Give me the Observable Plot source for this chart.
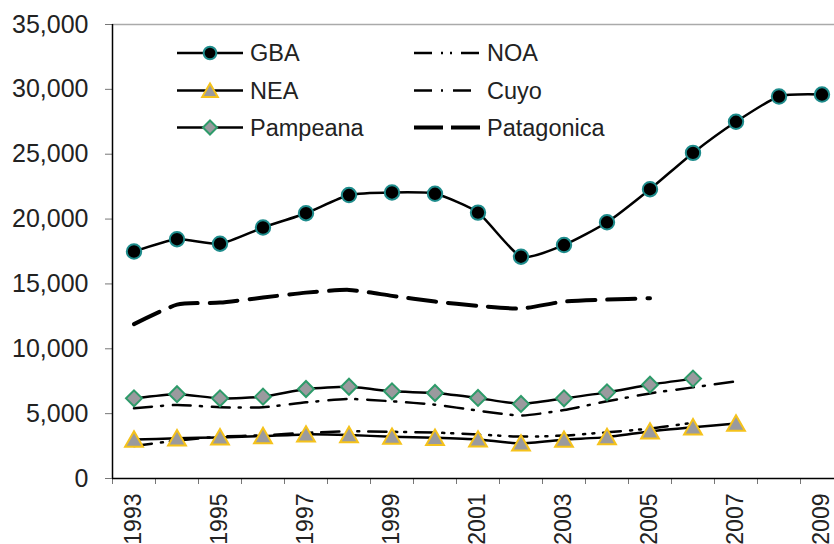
<!DOCTYPE html>
<html><head><meta charset="utf-8">
<script src="https://cdn.jsdelivr.net/npm/d3@7"></script>
<script src="https://cdn.jsdelivr.net/npm/@observablehq/plot@0.6"></script>
<style>
body{margin:0;background:#fff;}
#wrap{position:relative;width:834px;height:544px;overflow:hidden;background:#fff;}
#wrap svg{display:block;}
.legend{position:absolute;left:0;top:0;pointer-events:none;}
</style></head><body><div id="wrap"></div>
<script>
const years = [1993,1994,1995,1996,1997,1998,1999,2000,2001,2002,2003,2004,2005,2006,2007,2008,2009];
const labelYears = [1993,1995,1997,1999,2001,2003,2005,2007,2009];
const yTicks = [0,5000,10000,15000,20000,25000,30000,35000];

const GBA        = [17500,18450,18100,19350,20450,21850,22050,21950,20500,17100,18000,19750,22300,25100,27500,29450,29600];
const NEA        = [3000,3100,3170,3270,3400,3350,3220,3140,3010,2700,2990,3190,3630,3950,4240,null,null];
const Pampeana   = [6180,6500,6180,6310,6900,7075,6720,6590,6210,5750,6180,6640,7230,7700,null,null,null];
const NOA        = [2500,2920,3230,3330,3520,3640,3600,3540,3390,3230,3310,3560,3850,4300,null,null,null];
const Cuyo       = [5410,5670,5490,5490,5870,6130,5950,5690,5230,4850,5280,5950,6560,7025,7485,null,null];
const Patagonica = [11900,13400,13560,13950,14330,14540,14080,13640,13310,13100,13640,13790,13900,null,null,null,null];

const FONT = "'Liberation Sans', Arial, sans-serif";
const TEXT = "#222";
const series = (vals) => years.map((year, i) => ({year, value: vals[i]})).filter(d => d.value != null);
const boundaries = years.map(y => y - 0.5).concat([years[years.length - 1] + 0.5]);

const gba = series(GBA), nea = series(NEA), pam = series(Pampeana),
      noa = series(NOA), cuyo = series(Cuyo), pat = series(Patagonica);

const styles = {
  GBA: {stroke:"#000", width:2.5, dash:null, symbol:"circle", r:7.2, fill:"#000", mstroke:"#1e8c8c"},
  NEA: {stroke:"#000", width:2.5, dash:null, symbol:"triangle", r:6.6, fill:"#9a9a9e", mstroke:"#f5c21b"},
  Pampeana: {stroke:"#000", width:2.5, dash:null, symbol:"diamond2", r:7.2, fill:"#9a9a9e", mstroke:"#2e9b6a"},
  NOA: {stroke:"#000", width:2.5, dash:"18,9,2,7,2,9"},
  Cuyo: {stroke:"#000", width:2.5, dash:"18,9,2,10"},
  Patagonica: {stroke:"#000", width:4, dash:"28,12"}
};

const lineMark = (data, s) => Plot.line(data, {x:"year", y:"value", stroke:s.stroke, strokeWidth:s.width,
  strokeDasharray:s.dash || undefined, curve:"cardinal", tension:0.4, strokeLinejoin:"round"});

const chart = Plot.plot({
  width: 834, height: 544,
  marginLeft: 112, marginRight: 0, marginTop: 24, marginBottom: 66,
  style: {fontFamily: FONT, background: "#fff", overflow: "hidden"},
  x: {type: "linear", domain: [1992.5, 2009.5], range: [112, 843]},
  y: {domain: [0, 35000], range: [478, 24]},
  marks: [
    Plot.ruleY([35000], {stroke:"#aaa", strokeWidth:1.6}),
    Plot.axisY(yTicks, {anchor:"left", label:null, tickSize:7, stroke:"#777", tickFormat: () => ""}),
    Plot.axisY(yTicks, {anchor:"left", label:null, tickSize:0, tickPadding:24, fontSize:25, fill:TEXT, tickFormat: d3.format(",")}),
    Plot.axisX(boundaries, {anchor:"bottom", label:null, tickSize:6, stroke:"#777", tickFormat: () => ""}),
    Plot.axisX(labelYears, {anchor:"bottom", label:null, tickSize:0, tickPadding:15, tickRotate:-90, fontSize:23, fill:TEXT, tickFormat: d => String(d)}),
    Plot.ruleX([1992.5], {y1:0, y2:35000, stroke:"#000", strokeWidth:1.5}),
    Plot.ruleY([0], {stroke:"#000", strokeWidth:1.5}),
    lineMark(pat, styles.Patagonica),
    lineMark(noa, styles.NOA),
    lineMark(cuyo, styles.Cuyo),
    lineMark(pam, styles.Pampeana),
    Plot.dot(pam, {x:"year", y:"value", symbol:"diamond2", r:styles.Pampeana.r, fill:styles.Pampeana.fill, stroke:styles.Pampeana.mstroke, strokeWidth:2}),
    lineMark(nea, styles.NEA),
    Plot.dot(nea, {x:"year", y:"value", symbol:"triangle", r:styles.NEA.r, dy:2, fill:styles.NEA.fill, stroke:styles.NEA.mstroke, strokeWidth:2}),
    lineMark(gba, styles.GBA),
    Plot.dot(gba, {x:"year", y:"value", symbol:"circle", r:styles.GBA.r, fill:styles.GBA.fill, stroke:styles.GBA.mstroke, strokeWidth:2})
  ]
});

const wrap = document.getElementById("wrap");
wrap.appendChild(chart);

// Legend (inside plot area, top-left)
const legendNames = [["GBA","NEA","Pampeana"],["NOA","Cuyo","Patagonica"]];
const colX = [177, 414];
const rowY = [53, 90.5, 127.5];
const symMap = {circle: d3.symbolCircle, triangle: d3.symbolTriangle, diamond2: d3.symbolDiamond2};
const lg = d3.create("svg").attr("class","legend").attr("width",834).attr("height",160)
  .style("font-family", FONT);
legendNames.forEach((col, ci) => col.forEach((name, ri) => {
  const s = styles[name], x0 = colX[ci], y0 = rowY[ri];
  lg.append("line").attr("x1", x0).attr("x2", x0 + 66).attr("y1", y0).attr("y2", y0)
    .attr("stroke", s.stroke).attr("stroke-width", s.width)
    .attr("stroke-dasharray", s.dash ? (name === "Patagonica" ? "29,8" : s.dash) : null);
  if (s.symbol) {
    const rr = s.r * 0.88;
    lg.append("path").attr("d", d3.symbol(symMap[s.symbol], Math.PI * rr * rr)())
      .attr("transform", `translate(${x0 + 33},${y0 + (s.symbol === "triangle" ? 2 : 0)})`)
      .attr("fill", s.fill).attr("stroke", s.mstroke).attr("stroke-width", 2);
  }
  lg.append("text").attr("x", x0 + 73).attr("y", y0).attr("dy", "0.35em")
    .attr("font-size", 23.5).attr("fill", TEXT).text(name);
}));
wrap.appendChild(lg.node());
</script></body></html>
